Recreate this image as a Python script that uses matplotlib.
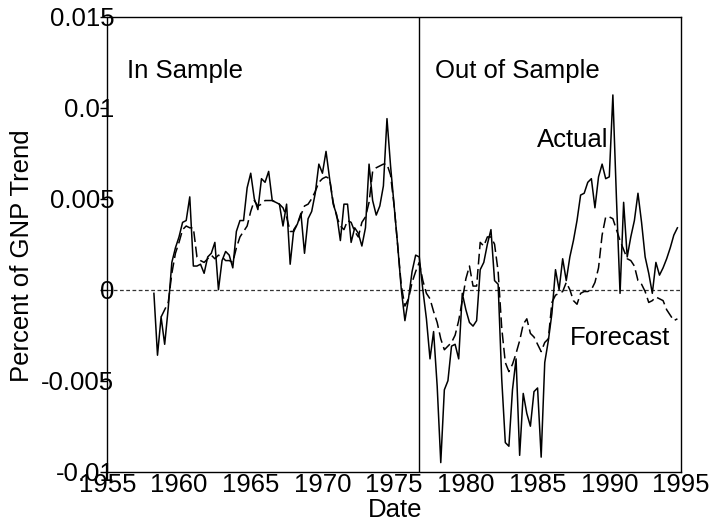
import numpy as np
import matplotlib
matplotlib.use("Agg")
import matplotlib.pyplot as plt

# ---- data (values in units of 0.001, quarterly) ----
start_year = 1958.25
actual = [-0.2, -3.6, -1.5, -3.0, -1.0, 1.5, 2.3, 2.9, 3.7, 3.8,
          5.1, 1.3, 1.3, 1.4, 0.9, 1.8, 2.0, 2.6, 0.0, 1.6,
          2.1, 1.9, 1.2, 3.2, 3.8, 3.8, 5.6, 6.4, 5.0, 4.4,
          6.1, 5.9, 6.5, 4.9, 4.8, 4.7, 3.5, 4.7, 1.4, 3.3,
          3.6, 4.2, 2.0, 3.9, 4.3, 5.3, 6.9, 6.4, 7.6, 6.1,
          4.7, 4.1, 2.7, 4.7, 4.7, 2.6, 3.4, 3.1, 2.4, 3.4,
          6.9, 4.9, 4.1, 4.6, 5.7, 9.4, 6.8, 4.6, 2.4, 0.0,
          -1.7, -0.5, 1.0, 1.9, 1.8, 0.0, -1.6, -3.8, -2.3, -5.3,
          -9.5, -5.5, -5.0, -3.1, -3.0, -3.8, -0.2, -1.1, -1.8, -2.0,
          -1.7, 1.1, 1.5, 2.5, 3.3, 0.5, 0.3, -4.9, -8.4, -8.6,
          -5.5, -3.8, -9.1, -5.7, -6.8, -7.5, -5.6, -5.4, -9.2, -4.0,
          -2.8, -1.3, 1.1, 0.0, 1.7, 0.5, 1.8, 2.7, 3.8, 5.2,
          5.3, 5.9, 6.1, 4.5, 6.2, 6.9, 6.1, 6.2, 10.7, 5.0,
          -0.2, 4.8, 1.8, 2.9, 3.8, 5.3, 3.7, 1.8, 0.9, -0.2,
          1.5, 0.8, 1.2, 1.7, 2.3, 3.0, 3.4]
forecast = [np.nan, np.nan, -1.5, -1.1, -0.7, 0.9, 2.0, 2.6, 3.3, 3.5,
            3.4, 3.4, 1.8, 1.6, 1.5, 1.7, 1.9, 1.7, 1.9, 1.8,
            1.6, 1.6, 1.5, 2.3, 2.9, 3.2, 3.5, 4.3, 4.9, 4.6,
            4.7, 4.9, 4.9, 4.9, 4.8, 4.7, 4.5, 4.0, 3.2, 3.2,
            3.6, 4.1, 4.6, 4.7, 5.0, 5.4, 5.9, 6.1, 6.2, 6.1,
            4.8, 4.0, 3.5, 3.3, 3.8, 3.7, 3.2, 2.9, 3.7, 4.0,
            4.8, 6.5, 6.7, 6.8, 6.9, 6.9, 6.3, 4.6, 2.4, 0.2,
            -0.9, -0.5, 0.4, 1.0, 1.5, 0.5, -0.2, -0.5, -1.2, -1.8,
            -2.7, -3.3, -3.1, -2.9, -2.5, -1.7, -0.6, 0.6, 1.3, 0.2,
            0.2, 2.6, 2.4, 2.9, 2.9, 2.5, 1.0, -2.1, -4.0, -4.5,
            -4.1, -3.5, -2.8, -1.9, -1.6, -2.4, -2.6, -3.0, -3.4, -2.9,
            -2.7, -0.7, -0.3, -0.2, -0.1, 0.4, 0.0, -0.6, -0.8, -0.2,
            -0.1, -0.1, 0.0, 0.4, 1.2, 3.0, 4.0, 4.0, 3.9, 3.3,
            2.7, 2.2, 1.7, 1.6, 1.3, 0.5, 0.3, -0.1, -0.7, -0.6,
            -0.4, -0.5, -0.6, -1.1, -1.4, -1.7, -1.6]
split_year = 1976.75
x_ticks = [1955, 1960, 1965, 1970, 1975, 1980, 1985, 1990, 1995]
y_ticks = [-0.01, -0.005, 0, 0.005, 0.01, 0.015]
y_tick_labels = ["-0.01", "-0.005", "0", "0.005", "0.01", "0.015"]

actual = np.array(actual) / 1000.0
forecast = np.array(forecast) / 1000.0
dates = start_year + np.arange(len(actual)) / 4.0

plt.rcParams['font.family'] = ['Liberation Sans', 'DejaVu Sans']
FS = 18.5

fig = plt.figure(figsize=(7.17, 5.22), dpi=100)
ax = fig.add_axes([107.3 / 717, 1 - 471.7 / 522, (681 - 107.3) / 717, (471.7 - 16.7) / 522])

ax.axhline(0, color='#333333', lw=0.9, ls=(0, (3, 2)), zorder=1)
ax.axvline(split_year, color='black', lw=1.0, zorder=2)
ax.plot(dates, forecast, color='black', lw=1.1, ls=(0, (7, 3)), zorder=3)
ax.plot(dates, actual, color='black', lw=1.1, zorder=4)

ax.set_xlim(1955, 1995)
ax.set_ylim(-0.01, 0.015)
ax.set_xticks(x_ticks)
ax.set_xticklabels([str(t) for t in x_ticks])
ax.set_yticks(y_ticks)
ax.set_yticklabels(y_tick_labels)
ax.tick_params(axis='y', direction='out', length=5, width=1, pad=-10, labelsize=FS)
ax.tick_params(axis='x', direction='out', length=0, pad=1, labelsize=FS)
for s in ax.spines.values():
    s.set_linewidth(1.0)

ax.text(1956.4, 0.012, "In Sample", fontsize=FS, va='center', ha='left')
ax.text(1977.85, 0.012, "Out of Sample", fontsize=FS, va='center', ha='left')
ax.text(1984.95, 0.0082, "Actual", fontsize=FS, va='center', ha='left')
ax.text(1987.25, -0.00265, "Forecast", fontsize=FS, va='center', ha='left')

fig.text(22 / 717, 0.51, "Percent of GNP Trend", rotation=90, fontsize=FS, ha='center', va='center')
fig.text(395 / 717, 0.023, "Date", fontsize=FS, ha='center', va='center')

fig.savefig("out.png", dpi=100)
